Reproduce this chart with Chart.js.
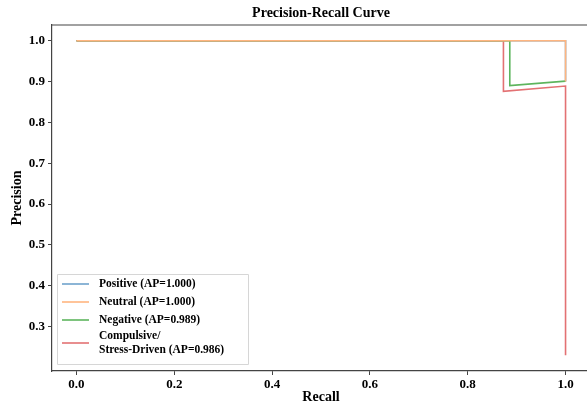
<!DOCTYPE html>
<html>
<head>
<meta charset="utf-8">
<script src="https://cdn.jsdelivr.net/npm/chart.js@4"></script>
<style>
  html, body { margin: 0; padding: 0; background: #fff; overflow: hidden; }
  #wrap { width: 587px; height: 408px; overflow: hidden; }
</style>
</head>
<body>
<div id="wrap"><canvas id="prChart" width="590" height="408"></canvas></div>
<script>
// series labels and colours
var seriesNames = ['Positive (AP=1.000)', 'Neutral (AP=1.000)', 'Negative (AP=0.989)', 'Compulsive/\nStress-Driven (AP=0.986)'];
var seriesColours = ['#6fa3cc', '#ffb57f', '#5db55d', '#e37173'];
// drawing order: lower number is drawn on top
var seriesOrder = [3, 0, 1, 2];

// recall / precision
var positiveRecall = [0, 1.0, 1.0];
var positivePrecision = [1.0, 1.0, 0.9];
var neutralRecall = [0, 1.0, 1.0];
var neutralPrecision = [1.0, 1.0, 0.9];
var negativeRecall = [0, 0.886, 0.886, 1.0];
var negativePrecision = [1.0, 1.0, 0.89, 0.901];
var compulsiveRecall = [0, 0.873, 0.873, 1.0, 1.0];
var compulsivePrecision = [1.0, 1.0, 0.876, 0.889, 0.23];

var xTicks = [0.0, 0.2, 0.4, 0.6, 0.8, 1.0];
var yTicks = [0.3, 0.4, 0.5, 0.6, 0.7, 0.8, 0.9, 1.0];

function toPoints(xs, ys) {
    var pts = [];
    for (let i = 0; i < xs.length; i++) {
        pts.push({x: xs[i], y: ys[i]});
    }
    return pts;
}

var allRecall = [positiveRecall, neutralRecall, negativeRecall, compulsiveRecall];
var allPrecision = [positivePrecision, neutralPrecision, negativePrecision, compulsivePrecision];

var datasets = [];
for (let i = 0; i < seriesNames.length; i++) {
    datasets.push({
        label: seriesNames[i],
        data: toPoints(allRecall[i], allPrecision[i]),
        borderColor: seriesColours[i],
        backgroundColor: seriesColours[i],
        borderWidth: 1.6,
        pointRadius: 0,
        showLine: true,
        fill: false,
        tension: 0,
        order: seriesOrder[i]
    });
}

var serif = '"Liberation Serif", "Times New Roman", serif';
var spineColour = '#444';

// title, axis labels, top spine and legend box drawn by hand
var decorations = {
    id: 'decorations',
    afterDraw: function(chart) {
        var ctx = chart.ctx;
        var area = chart.chartArea;
        ctx.save();

        ctx.strokeStyle = spineColour;
        ctx.lineWidth = 1.2;
        ctx.beginPath();
        ctx.moveTo(area.left, area.top);
        ctx.lineTo(area.right, area.top);
        ctx.stroke();

        ctx.fillStyle = '#000';
        ctx.textAlign = 'center';
        ctx.textBaseline = 'middle';
        ctx.font = 'bold 14px ' + serif;
        ctx.fillText('Precision-Recall Curve', 321, 13);
        ctx.fillText('Recall', 321, 397);

        ctx.save();
        ctx.translate(17, 198);
        ctx.rotate(-Math.PI / 2);
        ctx.fillText('Precision', 0, 0);
        ctx.restore();

        // legend
        var bx = 57, by = 274, bw = 191, bh = 90;
        ctx.fillStyle = 'rgba(255,255,255,0.85)';
        ctx.strokeStyle = '#d6d6d6';
        ctx.lineWidth = 1;
        ctx.beginPath();
        ctx.rect(bx + 0.5, by + 0.5, bw, bh);
        ctx.fill();
        ctx.stroke();

        var rowY = [284, 302, 320, 343];
        ctx.font = 'bold 11.5px ' + serif;
        ctx.textAlign = 'left';
        for (let i = 0; i < seriesNames.length; i++) {
            ctx.strokeStyle = seriesColours[i];
            ctx.lineWidth = 1.6;
            ctx.beginPath();
            ctx.moveTo(62, rowY[i]);
            ctx.lineTo(89, rowY[i]);
            ctx.stroke();
            ctx.fillStyle = '#000';
            var lines = seriesNames[i].split('\n');
            var startY = rowY[i] - (lines.length - 1) * 7;
            for (let j = 0; j < lines.length; j++) {
                ctx.fillText(lines[j], 99, startY + j * 14);
            }
        }
        ctx.restore();
    }
};

var ctx = document.getElementById('prChart').getContext('2d');
var myChart = new Chart(ctx, {
    type: 'scatter',
    data: { datasets: datasets },
    options: {
        responsive: false,
        animation: false,
        devicePixelRatio: 1,
        layout: { padding: { top: 25, right: 0, left: 0, bottom: 0 } },
        plugins: {
            legend: { display: false },
            title: { display: false },
            tooltip: { enabled: false }
        },
        scales: {
            x: {
                type: 'linear',
                min: -0.05,
                max: 1.05,
                afterFit: function(scale) { scale.height = 37; },
                afterBuildTicks: function(scale) {
                    scale.ticks = xTicks.map(v => ({value: v}));
                },
                grid: { drawOnChartArea: false, drawTicks: true, tickLength: 4, color: spineColour },
                border: { display: true, color: spineColour, width: 1.2 },
                ticks: {
                    color: '#000',
                    padding: 2,
                    maxRotation: 0,
                    font: { family: serif, size: 13, weight: 'bold' },
                    callback: v => v.toFixed(1)
                }
            },
            y: {
                type: 'linear',
                min: 0.1915,
                max: 1.0385,
                afterFit: function(scale) { scale.width = 52; },
                afterBuildTicks: function(scale) {
                    scale.ticks = yTicks.map(v => ({value: v}));
                },
                grid: { drawOnChartArea: false, drawTicks: true, tickLength: 4, color: spineColour },
                border: { display: true, color: spineColour, width: 1.2 },
                ticks: {
                    color: '#000',
                    padding: 3,
                    font: { family: serif, size: 13, weight: 'bold' },
                    callback: v => v.toFixed(1)
                }
            }
        }
    },
    plugins: [decorations]
});
</script>
</body>
</html>
